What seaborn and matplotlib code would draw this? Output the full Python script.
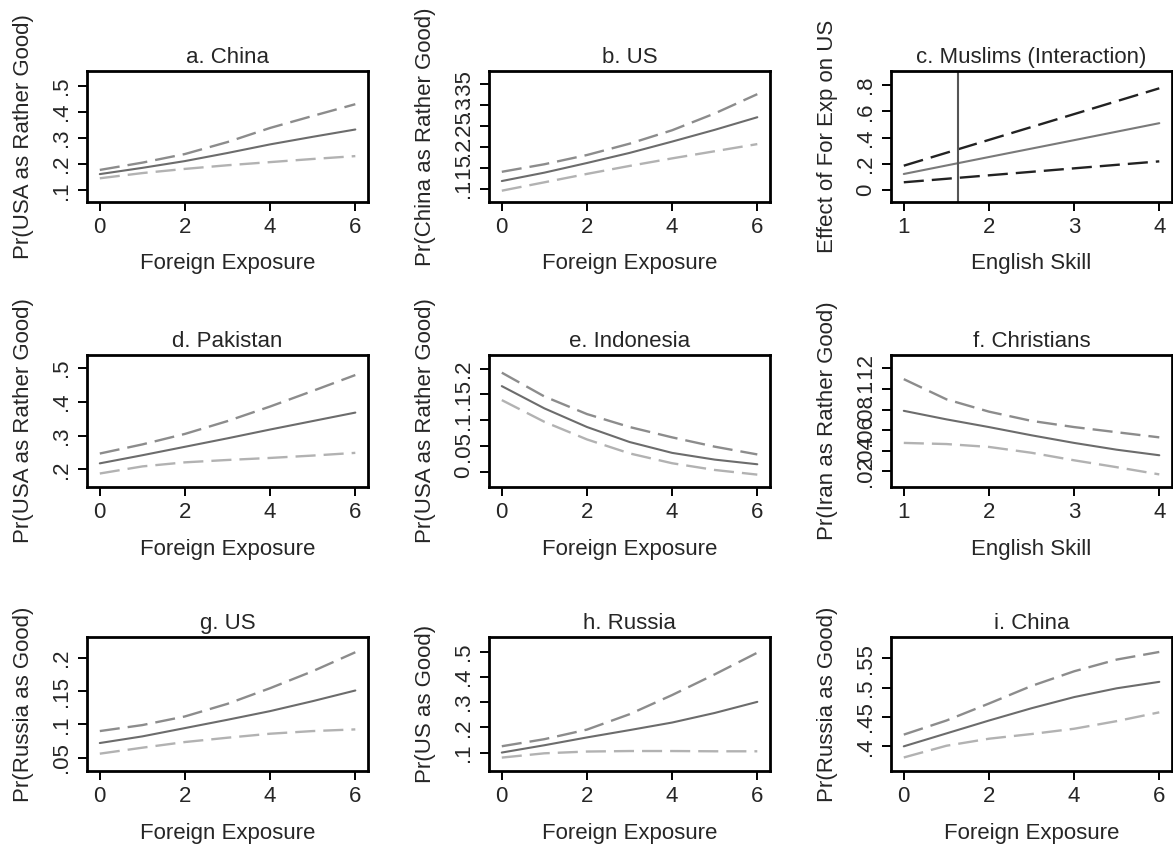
import pandas as pd
import seaborn as sns
import matplotlib.pyplot as plt

# x grids
fe_x = [0, 1, 2, 3, 4, 5, 6]
eng_x_c = [1, 2, 3, 4]
eng_x_f = [1, 1.5, 2, 2.5, 3, 3.5, 4]

# a. China
a_hi = [0.178, 0.206, 0.239, 0.285, 0.339, 0.385, 0.430]
a_mid = [0.162, 0.186, 0.212, 0.243, 0.276, 0.305, 0.333]
a_lo = [0.146, 0.166, 0.182, 0.196, 0.208, 0.220, 0.231]
# b. US
b_hi = [0.141, 0.159, 0.181, 0.208, 0.240, 0.280, 0.326]
b_mid = [0.119, 0.139, 0.162, 0.186, 0.213, 0.241, 0.271]
b_lo = [0.096, 0.116, 0.136, 0.155, 0.173, 0.190, 0.207]
# c. Muslims (Interaction)
c_hi = [0.187, 0.383, 0.579, 0.775]
c_mid = [0.124, 0.253, 0.381, 0.510]
c_lo = [0.061, 0.114, 0.167, 0.220]
c_vline = 1.635
# d. Pakistan
d_hi = [0.247, 0.274, 0.305, 0.343, 0.386, 0.432, 0.479]
d_mid = [0.218, 0.242, 0.267, 0.292, 0.318, 0.343, 0.368]
d_lo = [0.188, 0.209, 0.221, 0.228, 0.234, 0.241, 0.249]
# e. Indonesia
e_hi = [0.192, 0.146, 0.112, 0.087, 0.067, 0.049, 0.034]
e_mid = [0.166, 0.123, 0.087, 0.058, 0.037, 0.024, 0.015]
e_lo = [0.139, 0.097, 0.063, 0.036, 0.017, 0.004, -0.005]
# f. Christians
f_hi = [0.1096, 0.090, 0.078, 0.069, 0.063, 0.058, 0.053]
f_mid = [0.0788, 0.0705, 0.063, 0.055, 0.0476, 0.041, 0.0356]
f_lo = [0.0476, 0.0465, 0.0437, 0.038, 0.0307, 0.024, 0.017]
# g. US
g_hi = [0.090, 0.099, 0.112, 0.131, 0.1545, 0.180, 0.2085]
g_mid = [0.072, 0.082, 0.0945, 0.107, 0.120, 0.135, 0.151]
g_lo = [0.056, 0.065, 0.0735, 0.080, 0.086, 0.090, 0.0925]
# h. Russia
h_hi = [0.125, 0.153, 0.191, 0.252, 0.328, 0.410, 0.496]
h_mid = [0.100, 0.129, 0.160, 0.189, 0.219, 0.257, 0.301]
h_lo = [0.080, 0.097, 0.104, 0.106, 0.106, 0.105, 0.105]
# i. China
i_hi = [0.420, 0.444, 0.473, 0.503, 0.528, 0.548, 0.561]
i_mid = [0.400, 0.422, 0.444, 0.465, 0.484, 0.499, 0.510]
i_lo = [0.381, 0.401, 0.413, 0.421, 0.430, 0.443, 0.458]

titles = ['a. China', 'b. US', 'c. Muslims (Interaction)',
          'd. Pakistan', 'e. Indonesia', 'f. Christians',
          'g. US', 'h. Russia', 'i. China']
ylabels = ['Pr(USA as Rather Good)', 'Pr(China as Rather Good)', 'Effect of For Exp on US',
           'Pr(USA as Rather Good)', 'Pr(USA as Rather Good)', 'Pr(Iran as Rather Good)',
           'Pr(Russia as Good)', 'Pr(US as Good)', 'Pr(Russia as Good)']
xlabels = ['Foreign Exposure', 'Foreign Exposure', 'English Skill',
           'Foreign Exposure', 'Foreign Exposure', 'English Skill',
           'Foreign Exposure', 'Foreign Exposure', 'Foreign Exposure']
yticks = [[.1, .2, .3, .4, .5], [.1, .15, .2, .25, .3, .35], [0, .2, .4, .6, .8],
          [.2, .3, .4, .5], [0, .05, .1, .15, .2], [.02, .04, .06, .08, .1, .12],
          [.05, .1, .15, .2], [.1, .2, .3, .4, .5], [.4, .45, .5, .55]]
yticklabels = [['.1', '.2', '.3', '.4', '.5'], ['.1', '.15', '.2', '.25', '.3', '.35'],
               ['0', '.2', '.4', '.6', '.8'], ['.2', '.3', '.4', '.5'],
               ['0', '.05', '.1', '.15', '.2'], ['.02', '.04', '.06', '.08', '.1', '.12'],
               ['.05', '.1', '.15', '.2'], ['.1', '.2', '.3', '.4', '.5'],
               ['.4', '.45', '.5', '.55']]
ylims = [(0.055, 0.557), (0.069, 0.381), (-0.089, 0.906),
         (0.148, 0.538), (-0.029, 0.226), (0.0047, 0.133),
         (0.030, 0.231), (0.027, 0.557), (0.358, 0.586)]

xs = [fe_x, fe_x, eng_x_c, fe_x, fe_x, eng_x_f, fe_x, fe_x, fe_x]
his = [a_hi, b_hi, c_hi, d_hi, e_hi, f_hi, g_hi, h_hi, i_hi]
mids = [a_mid, b_mid, c_mid, d_mid, e_mid, f_mid, g_mid, h_mid, i_mid]
los = [a_lo, b_lo, c_lo, d_lo, e_lo, f_lo, g_lo, h_lo, i_lo]

sns.set_style('ticks')
plt.rcParams['font.family'] = ['Liberation Sans', 'DejaVu Sans']
fs = 16

fig = plt.figure(figsize=(11.73, 8.46), dpi=100)
col_left = [0.0742, 0.4169, 0.7596]
row_bottom = [0.7612, 0.4243, 0.0887]
row_height = [0.1548, 0.156, 0.158]
dash = (0, (8.5, 3.4))

for k in range(9):
    r, c = divmod(k, 3)
    ax = fig.add_axes([col_left[c], row_bottom[r], 0.2396, row_height[r]])
    df = pd.DataFrame({'x': xs[k], 'hi': his[k], 'mid': mids[k], 'lo': los[k]})
    if k == 2:
        hi_col, mid_col, lo_col = '#222222', '#7a7a7a', '#222222'
    else:
        hi_col, mid_col, lo_col = '#8c8c8c', '#6c6c6c', '#b2b2b2'
    sns.lineplot(data=df, x='x', y='hi', ax=ax, color=hi_col, linestyle=dash, linewidth=1.7, errorbar=None)
    sns.lineplot(data=df, x='x', y='lo', ax=ax, color=lo_col, linestyle=dash, linewidth=1.7, errorbar=None)
    sns.lineplot(data=df, x='x', y='mid', ax=ax, color=mid_col, linewidth=1.5, errorbar=None)
    if k == 2:
        ax.axvline(c_vline, color='#555555', linewidth=1.5)

    if xlabels[k] == 'English Skill':
        ax.set_xlim(0.85, 4.15)
        ax.set_xticks([1, 2, 3, 4])
    else:
        ax.set_xlim(-0.3, 6.3)
        ax.set_xticks([0, 2, 4, 6])
    ax.set_ylim(*ylims[k])
    ax.set_yticks(yticks[k])
    ax.set_yticklabels(yticklabels[k], rotation=90, va='center')

    ax.set_title(titles[k], pad=6, fontsize=fs)
    ax.set_xlabel(xlabels[k], fontsize=fs)
    ax.set_ylabel(ylabels[k], fontsize=fs)
    ax.xaxis.set_label_coords(0.5, -0.39)
    ax.yaxis.set_label_coords(-0.19, 0.5)
    ax.tick_params(axis='both', length=6.5, width=1.4, pad=4, labelsize=fs, color='black')
    for s in ax.spines.values():
        s.set_linewidth(2.0)
        s.set_color('black')

fig.savefig('out.png', dpi=100)
